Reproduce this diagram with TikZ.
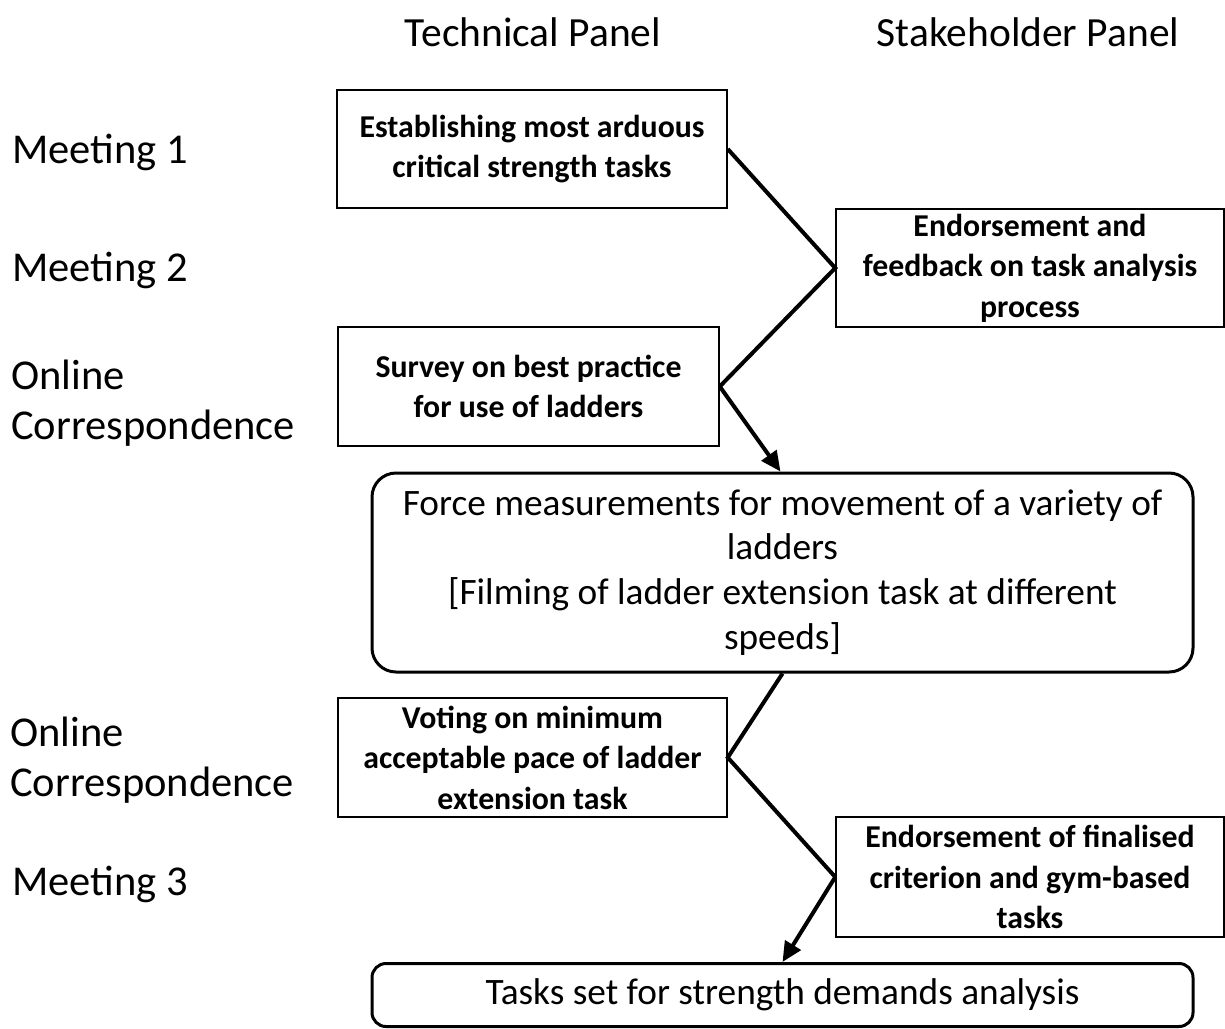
\documentclass[tikz,border=0pt]{standalone}
\usepackage{fontspec}
\setmainfont{Carlito}
\usetikzlibrary{arrows.meta}
\begin{document}
\begin{tikzpicture}[x=1pt,y=-1pt,
  sbox/.style={draw,line width=1.5pt,minimum width=#1,inner sep=0pt,align=center,
    font=\bfseries\fontsize{31.8}{40.5}\selectfont,
    execute at begin node={\rule{0pt}{30pt}}},
  rbox/.style={draw,line width=3pt,rounded corners=24pt,inner sep=0pt,align=center,
    font=\fontsize{37.3}{44.7}\selectfont},
  bigtext/.style={execute at begin node={\rule{0pt}{37pt}}},
  lab/.style={anchor=west,align=left,inner sep=0pt,font=\fontsize{42.5}{50}\selectfont},
  head/.style={inner sep=0pt,font=\fontsize{41.5}{48}\selectfont},
  conn/.style={line width=4pt},
  arr/.style={line width=4pt,-{Triangle[length=20pt,width=18pt]}}]
\useasboundingbox (0,0) rectangle (1225,1028);
% headers
\node[head] (h1) at (533,32) {Technical Panel};
\node[head] (h2) at (1028,32) {Stakeholder Panel};
% left labels
\node[lab] (m1) at (12,152) {Meeting 1};
\node[lab] (m2) at (12,270) {Meeting 2};
\node[lab] (oc1) at (11,403) {Online\\Correspondence};
\node[lab] (oc2) at (10,760) {Online\\Correspondence};
\node[lab] (m3) at (12,884) {Meeting 3};
% boxes
\node[sbox=390pt,minimum height=118pt] (b1) at (532,149) {Establishing most arduous\\critical strength tasks};
\node[sbox=388pt,minimum height=118pt] (b2) at (1030,268) {Endorsement and\\feedback on task analysis\\process};
\node[sbox=381pt,minimum height=119pt] (b3) at (528.5,386.5) {Survey on best practice\\for use of ladders};
\node[rbox,bigtext,minimum width=821pt,minimum height=199pt] (big) at (782.5,572.5) {Force measurements for movement of a variety of\\ladders\\{[}Filming of ladder extension task at different\\speeds{]}};
\node[sbox=389pt,minimum height=119pt] (b4) at (532.5,757.5) {Voting on minimum\\acceptable pace of ladder\\extension task};
\node[sbox=388pt,minimum height=120pt] (b5) at (1030,877) {Endorsement of finalised\\criterion and gym-based\\tasks};
\node[rbox,minimum width=821pt,minimum height=63pt,rounded corners=14pt] (fin) at (782.5,995) {Tasks set for strength demands analysis};
% connectors
\draw[conn] (b1.east) -- (b2.west) -- (b3.east);
\draw[arr] (b3.east) -- ([xshift=-2pt]big.north);
\draw[conn] (big.south) -- (b4.east) -- (b5.west);
\draw[arr] (b5.west) -- (fin.north);
\end{tikzpicture}
\end{document}
